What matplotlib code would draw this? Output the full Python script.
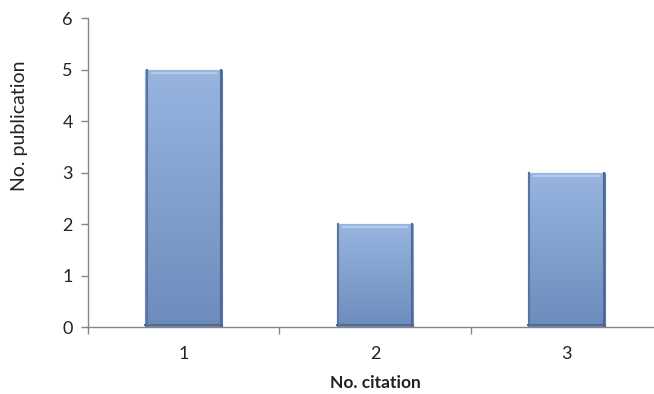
import numpy as np
import matplotlib.pyplot as plt
from matplotlib.colors import LinearSegmentedColormap

# publications per citation count
citations = ["1", "2", "3"]
publications = [5, 2, 3]

plt.rcParams['font.family'] = ['Lato', 'DejaVu Sans']

fig = plt.figure(figsize=(6.54, 3.94), dpi=100)
ax = fig.add_axes([0.1346, 0.170, 0.878, 0.784])

x = np.arange(1, len(citations) + 1)
bars = ax.bar(x, publications, width=0.40, color="#86a4d1",
              edgecolor="#5a77a5", linewidth=0.8, zorder=2)

# vertical shading on each bar, lighter at the top
cmap = LinearSegmentedColormap.from_list("barshade", ["#6d8cbc", "#97b5df"])
grad = np.linspace(0, 1, 256).reshape(-1, 1)
for b in bars:
    x0, y0 = b.get_x(), b.get_y()
    w, h = b.get_width(), b.get_height()
    im = ax.imshow(grad, cmap=cmap, origin="lower", aspect="auto",
                   extent=[x0, x0 + w, y0, y0 + h], zorder=2.5)
    im.set_clip_path(b)
    # bevel highlight along the top
    ax.plot([x0 + w * 0.08, x0 + w * 0.92], [y0 + h - 0.06, y0 + h - 0.06],
            color="#b4cbea", linewidth=1.5, zorder=3)
    # darker sides
    ax.plot([x0 + 0.006, x0 + 0.006], [y0, y0 + h], color="#58759f",
            linewidth=1.5, zorder=3)
    ax.plot([x0 + w - 0.006, x0 + w - 0.006], [y0, y0 + h], color="#4f6a94",
            linewidth=1.5, zorder=3)
    ax.plot([x0, x0 + w], [y0 + 0.03, y0 + 0.03], color="#4f6a94",
            linewidth=1.5, zorder=3)

ax.set_xlim(0.5, 3.5)
ax.set_ylim(0, 6)

ax.set_yticks(range(0, 7))
ax.set_xticks(x)
ax.set_xticklabels(citations)
ax.set_xticks([0.5, 1.5, 2.5, 3.5], minor=True)
ax.tick_params(axis="x", which="major", length=0, pad=14, labelsize=13,
               colors="#222222")
ax.tick_params(axis="x", which="minor", length=5, color="#868686", width=1)
ax.tick_params(axis="y", length=5, color="#868686", width=1, labelsize=13,
               pad=6, labelcolor="#222222")

for s in ["top", "right"]:
    ax.spines[s].set_visible(False)
for s in ["left", "bottom"]:
    ax.spines[s].set_color("#868686")
    ax.spines[s].set_linewidth(1)

ax.set_xlabel("No. citation", fontsize=12.5, fontweight="bold", labelpad=9,
              color="#222222")
ax.set_ylabel("No. publication", fontsize=14, color="#222222")
ax.yaxis.set_label_coords(-0.104, 0.65)

fig.savefig("out.png", dpi=100)
